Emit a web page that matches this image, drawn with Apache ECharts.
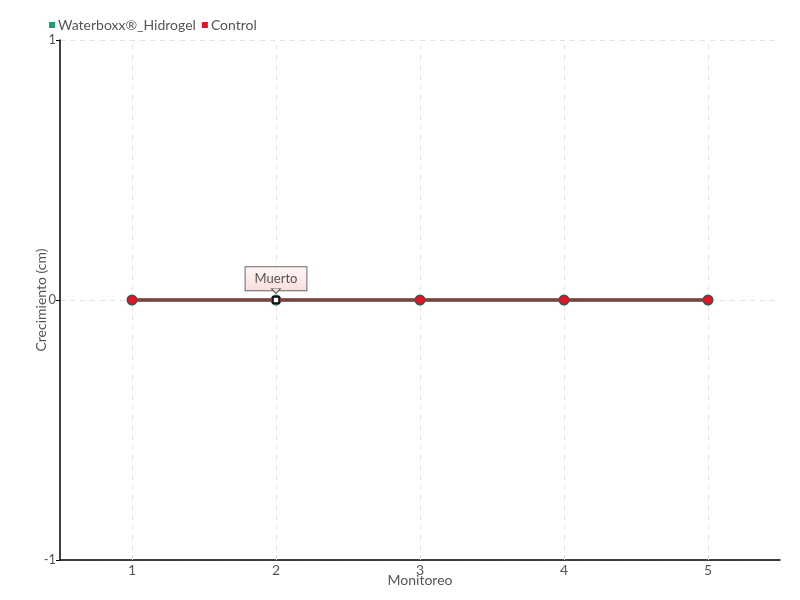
<!DOCTYPE html>
<html><head><meta charset="utf-8">
<script src="https://cdn.jsdelivr.net/npm/echarts@6/dist/echarts.min.js"></script>
<style>html,body{margin:0;padding:0;background:#fff}#c{width:800px;height:600px}</style>
</head><body><div id="c"></div>
<script>
const categories = ['1','2','3','4','5'];
const waterboxx = [0,0,0,0,0];
const control = [0,0,0,0,0];
const notes = ['', 'Muerto', '', '', ''];
const yTicks = [-1, 0, 1];

const FONT = 'Lato, "Open Sans", sans-serif';
const chart = echarts.init(document.getElementById('c'));
const controlData = control.map((v, i) => notes[i] ? {
  value: v, symbol: 'rect', symbolSize: 6,
  itemStyle: {color: '#fff', borderColor: '#000', borderWidth: 1.5},
  label: {show: true, formatter: notes[i], position: 'top', distance: 6,
    color: '#555', fontFamily: FONT, fontSize: 13,
    backgroundColor: {type: 'linear', x: 0, y: 0, x2: 0, y2: 1,
      colorStops: [{offset: 0, color: '#fff7f7'}, {offset: 1, color: '#fbdcdc'}]},
    borderColor: '#666', borderWidth: 1, padding: [5, 9, 5, 9]}
} : v);
const noteMarks = notes.map((n, i) => n ? {coord: [categories[i], control[i]]} : null).filter(Boolean);
const vLines = categories.map(c => ({xAxis: c}));

chart.setOption({
  animation: false,
  textStyle: {fontFamily: FONT},
  legend: {left: 44, top: 13, itemWidth: 6, itemHeight: 6, itemGap: 6,
    icon: 'rect',
    data: [{name: 'Waterboxx®_Hidrogel', itemStyle: {color: '#1b9e77'}},
           {name: 'Control', itemStyle: {color: '#e8102a'}}],
    textStyle: {fontFamily: FONT, fontSize: 14, color: '#555', padding: [0,0,0,-2]}},
  grid: {left: 60, right: 20, top: 40, bottom: 40},
  xAxis: {type: 'category', data: categories, boundaryGap: true,
    name: 'Monitoreo', nameLocation: 'middle', nameGap: 13, nameMoveOverlap: false,
    nameTextStyle: {color: '#555', fontSize: 14, fontFamily: FONT},
    axisLine: {onZero: false, lineStyle: {color: '#000', width: 1.5}},
    axisTick: {alignWithLabel: true, length: 4, lineStyle: {color: '#000'}},
    axisLabel: {color: '#555', fontSize: 14, fontFamily: FONT, margin: 3},
    splitLine: {show: false}},
  yAxis: {type: 'value', min: yTicks[0], max: yTicks[yTicks.length-1], interval: 1,
    name: 'Crecimiento (cm)', nameLocation: 'middle', nameGap: 12, nameRotate: 90, nameMoveOverlap: false,
    nameTextStyle: {color: '#555', fontSize: 14, fontFamily: FONT},
    axisLine: {show: true, lineStyle: {color: '#000', width: 1.5}},
    axisTick: {show: true, length: 4, lineStyle: {color: '#000'}},
    axisLabel: {color: '#555', fontSize: 13, fontFamily: FONT, margin: 4},
    splitLine: {show: true, lineStyle: {color: '#e3e3e3', type: [5,5]}}},
  series: [
    {name: 'Waterboxx®_Hidrogel', type: 'line', data: waterboxx, z: 2,
      symbol: 'circle', symbolSize: 11,
      lineStyle: {width: 4, color: '#1b9e77'}, itemStyle: {color: '#2a5e48'},
      markLine: {silent: true, symbol: 'none', label: {show: false},
        lineStyle: {color: '#e3e3e3', type: [5,5], width: 1}, data: vLines, z: 1}},
    {name: 'Control', type: 'line', data: controlData, z: 3,
      symbol: 'circle', symbolSize: 8,
      lineStyle: {width: 2, color: '#e8102a'}, itemStyle: {color: '#e8102a'},
      markPoint: {silent: true, symbol: 'triangle', symbolSize: [9, 5], symbolRotate: 180,
        symbolOffset: [0, -9], label: {show: false},
        itemStyle: {color: '#fbdcdc', borderColor: '#666', borderWidth: 1},
        data: noteMarks, z: 10}}
  ]
});
</script></body></html>
